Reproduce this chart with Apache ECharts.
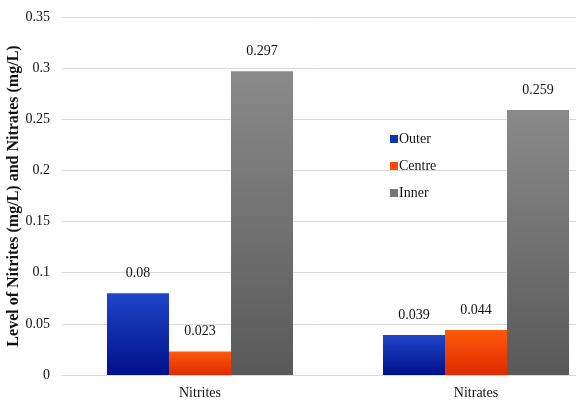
<!DOCTYPE html>
<html><head><meta charset="utf-8">
<script src="https://cdn.jsdelivr.net/npm/echarts@6/dist/echarts.min.js"></script>
<style>html,body{margin:0;padding:0;background:#fff}#c{width:576px;height:400px}</style>
</head><body><div id="c"></div>
<script>
var categories = ["Nitrites", "Nitrates"];
var seriesNames = ["Outer", "Centre", "Inner"];
var outerValues = [0.08, 0.039];
var centreValues = [0.023, 0.044];
var innerValues = [0.297, 0.259];
var yTicks = [0, 0.05, 0.1, 0.15, 0.2, 0.25, 0.3, 0.35];

function grad(top, bottom) {
  return new echarts.graphic.LinearGradient(0, 0, 0, 1, [
    {offset: 0, color: top}, {offset: 1, color: bottom}
  ]);
}
var font = "'Liberation Serif', 'Times New Roman', serif";
var colors = [grad('#1f45c8', '#00108a'), grad('#ff5a0a', '#dd2a00'), grad('#8a8a8a', '#595959')];
var legendColors = ['#1034b0', '#ff4a00', '#777777'];
var vals = [outerValues, centreValues, innerValues];

var series = seriesNames.map(function (n, i) {
  return {
    name: n, type: 'bar', data: vals[i],
    barGap: '0%', barCategoryGap: '32.6%',
    itemStyle: {color: colors[i]},
    label: {show: true, position: 'top', distance: 13, color: '#111', fontFamily: font, fontSize: 14,
      formatter: function (p) { return String(p.value); }}
  };
});

var chart = echarts.init(document.getElementById('c'));
chart.setOption({
  animation: false,
  color: legendColors,
  textStyle: {fontFamily: font},
  grid: {left: 62, right: -38, top: 17, bottom: 25, containLabel: false, outerBoundsMode: 'none'},
  legend: {
    orient: 'vertical', left: 385, top: 127, itemWidth: 8, itemHeight: 8, itemGap: 13,
    icon: 'rect',
    textStyle: {fontFamily: font, fontSize: 14, color: '#111', padding: [0, 0, 0, -4]},
    data: seriesNames.map(function (n, i) { return {name: n, itemStyle: {color: legendColors[i]}}; })
  },
  xAxis: {
    type: 'category', data: categories,
    axisLine: {show: true, lineStyle: {color: '#d9d9d9'}},
    axisTick: {show: false},
    axisLabel: {fontFamily: font, fontSize: 14, color: '#111', margin: 11}
  },
  yAxis: {
    type: 'value', min: 0, max: 0.35, interval: 0.05,
    name: 'Level of Nitrites (mg/L) and Nitrates (mg/L)',
    nameLocation: 'middle', nameGap: 40, nameRotate: 90, nameMoveOverlap: false,
    nameTextStyle: {fontFamily: font, fontSize: 16, fontWeight: 'bold', color: '#111'},
    axisLine: {show: false}, axisTick: {show: false},
    splitLine: {lineStyle: {color: '#d9d9d9'}},
    axisLabel: {fontFamily: font, fontSize: 14, color: '#111', margin: 12,
      formatter: function (v) { return String(parseFloat(v.toFixed(2))); }}
  },
  series: series
});
</script></body></html>
